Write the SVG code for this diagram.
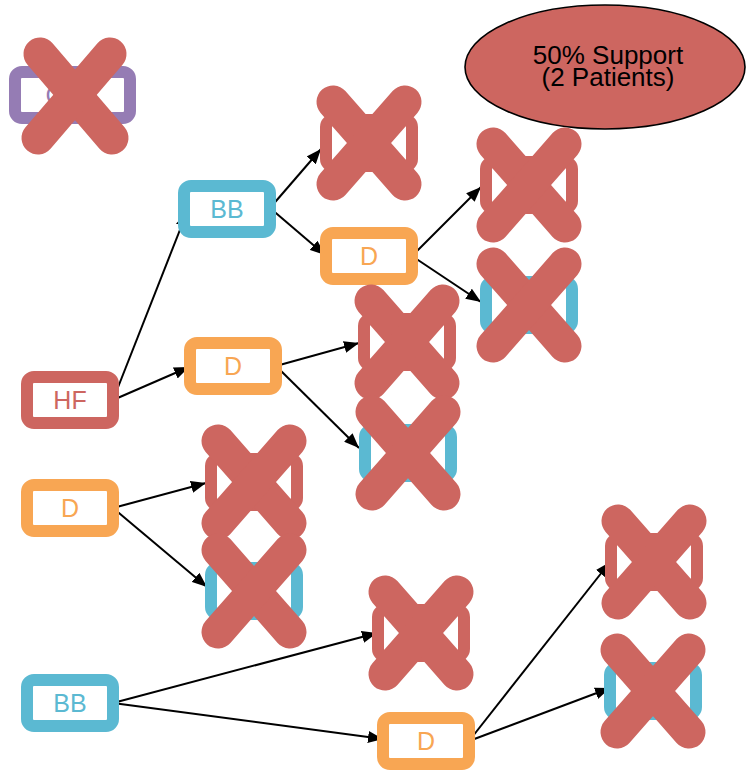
<svg xmlns="http://www.w3.org/2000/svg" width="746" height="770" viewBox="0 0 746 770">
<defs>
<marker id="ah" viewBox="0 0 15 12" refX="15" refY="6" markerWidth="15" markerHeight="12" markerUnits="userSpaceOnUse" orient="auto">
<path d="M0,0 L15,6 L0,12 Z" fill="#000"/>
</marker>
</defs>
<style>
.box{fill:#fff;stroke-width:12}
.red{stroke:#cd6660}
.blue{stroke:#5bb9d2}
.orange{stroke:#f8a653}
.purple{stroke:#957cb4}
.t{font-family:"Liberation Sans",Arial,sans-serif;font-size:25px;text-anchor:middle}
.x{stroke:#cd6660;stroke-width:33;stroke-linecap:round;fill:none}
.e{stroke:#000;stroke-width:2;fill:none;marker-end:url(#ah)}
.lab{font-family:"Liberation Sans",Arial,sans-serif;font-size:26px;text-anchor:middle;fill:#000}
</style>
<rect width="746" height="770" fill="#fff"/>
<g id="connectors">
<line class="e" x1="113" y1="400" x2="187" y2="212"/>
<line class="e" x1="113" y1="400" x2="189" y2="367"/>
<line class="e" x1="270" y1="208" x2="321" y2="149"/>
<line class="e" x1="270" y1="208" x2="325" y2="255"/>
<line class="e" x1="412" y1="256" x2="481" y2="187"/>
<line class="e" x1="412" y1="256" x2="481" y2="302"/>
<line class="e" x1="276" y1="366" x2="359" y2="343"/>
<line class="e" x1="276" y1="366" x2="359" y2="448"/>
<line class="e" x1="113" y1="508" x2="206" y2="483"/>
<line class="e" x1="113" y1="508" x2="207" y2="587"/>
<line class="e" x1="113" y1="703" x2="377" y2="633"/>
<line class="e" x1="113" y1="703" x2="383" y2="739"/>
<line class="e" x1="469" y1="741" x2="610" y2="562"/>
<line class="e" x1="469" y1="741" x2="610" y2="688"/>
</g>
<g id="ccb">
<rect class="box purple" x="15" y="72" width="115" height="46" rx="7"/>
<text class="t" x="72" y="104" fill="#957cb4">CCB</text>
<line class="x" x1="40" y1="54" x2="112" y2="138"/>
<line class="x" x1="110" y1="54" x2="38" y2="138"/>
</g>
<g id="support">
<ellipse cx="605" cy="67" rx="140" ry="62" fill="#cd6660" stroke="#000" stroke-width="1.6"/>
<text class="lab" x="608" y="64">50% Support</text>
<text class="lab" x="608" y="86">(2 Patients)</text>
</g>
<g id="hf">
<rect class="box red" x="27" y="377" width="86" height="46" rx="7"/>
<text class="t" x="70" y="409" fill="#cd6660">HF</text>
</g>
<g id="bb1">
<rect class="box blue" x="184" y="186" width="86" height="46" rx="7"/>
<text class="t" x="227" y="218" fill="#5bb9d2">BB</text>
</g>
<g id="d1">
<rect class="box orange" x="326" y="233" width="86" height="46" rx="7"/>
<text class="t" x="369" y="265" fill="#f8a653">D</text>
</g>
<g id="d2">
<rect class="box orange" x="190" y="343" width="86" height="46" rx="7"/>
<text class="t" x="233" y="375" fill="#f8a653">D</text>
</g>
<g id="d3">
<rect class="box orange" x="27" y="485" width="86" height="46" rx="7"/>
<text class="t" x="70" y="517" fill="#f8a653">D</text>
</g>
<g id="bb2">
<rect class="box blue" x="27" y="680" width="86" height="46" rx="7"/>
<text class="t" x="70" y="712" fill="#5bb9d2">BB</text>
</g>
<g id="d4">
<rect class="box orange" x="383" y="718" width="86" height="46" rx="7"/>
<text class="t" x="426" y="750" fill="#f8a653">D</text>
</g>
<g id="x1">
<rect class="box red" x="326" y="120" width="86" height="46" rx="7"/>
<line class="x" x1="333" y1="102" x2="405" y2="184"/>
<line class="x" x1="405" y1="102" x2="333" y2="184"/>
</g>
<g id="x2">
<rect class="box red" x="486" y="162" width="86" height="46" rx="7"/>
<line class="x" x1="493" y1="144" x2="565" y2="226"/>
<line class="x" x1="565" y1="144" x2="493" y2="226"/>
</g>
<g id="x3">
<rect class="box blue" x="486" y="282" width="86" height="46" rx="7"/>
<line class="x" x1="493" y1="264" x2="565" y2="346"/>
<line class="x" x1="565" y1="264" x2="493" y2="346"/>
</g>
<g id="x4">
<rect class="box red" x="364" y="319" width="86" height="46" rx="7"/>
<line class="x" x1="371" y1="301" x2="443" y2="383"/>
<line class="x" x1="443" y1="301" x2="371" y2="383"/>
</g>
<g id="x5">
<rect class="box blue" x="365" y="430" width="86" height="46" rx="7"/>
<line class="x" x1="372" y1="412" x2="444" y2="494"/>
<line class="x" x1="444" y1="412" x2="372" y2="494"/>
</g>
<g id="x6">
<rect class="box red" x="211" y="459" width="86" height="46" rx="7"/>
<line class="x" x1="218" y1="441" x2="290" y2="523"/>
<line class="x" x1="290" y1="441" x2="218" y2="523"/>
</g>
<g id="x7">
<rect class="box blue" x="211" y="568" width="86" height="46" rx="7"/>
<line class="x" x1="218" y1="550" x2="290" y2="632"/>
<line class="x" x1="290" y1="550" x2="218" y2="632"/>
</g>
<g id="x8">
<rect class="box red" x="378" y="610" width="86" height="46" rx="7"/>
<line class="x" x1="385" y1="592" x2="457" y2="674"/>
<line class="x" x1="457" y1="592" x2="385" y2="674"/>
</g>
<g id="x9">
<rect class="box red" x="611" y="539" width="86" height="46" rx="7"/>
<line class="x" x1="618" y1="521" x2="690" y2="603"/>
<line class="x" x1="690" y1="521" x2="618" y2="603"/>
</g>
<g id="x10">
<rect class="box blue" x="610" y="668" width="86" height="46" rx="7"/>
<line class="x" x1="617" y1="650" x2="689" y2="732"/>
<line class="x" x1="689" y1="650" x2="617" y2="732"/>
</g>
</svg>
